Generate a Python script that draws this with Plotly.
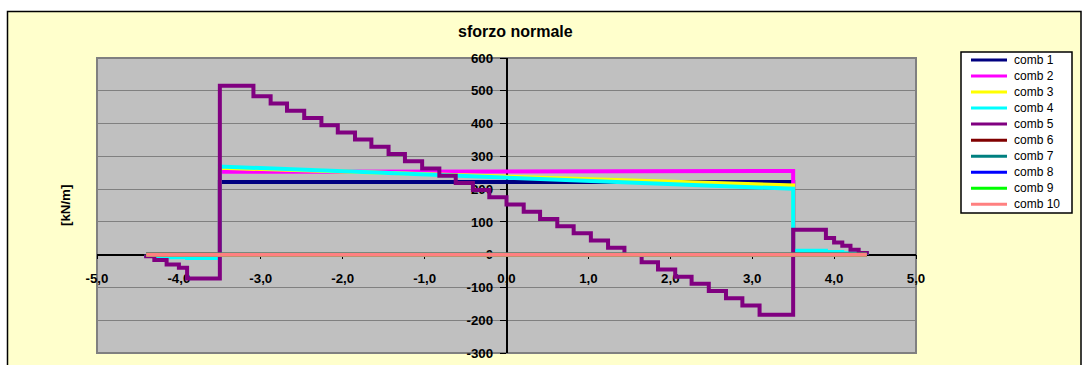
import plotly.graph_objects as go

# ---------------- data ----------------
series_names = ["comb 1", "comb 2", "comb 3", "comb 4", "comb 5",
                "comb 6", "comb 7", "comb 8", "comb 9", "comb 10"]
series_colors = ["#000080", "#FF00FF", "#FFFF00", "#00FFFF", "#800080",
                 "#800000", "#008080", "#0000FF", "#00FF00", "#FF8080"]

# beam stations (m)
comb1_x = [-4.4, -3.5, -3.5, 3.5, 3.5, 4.4]
comb1_y = [0, 0, 222, 222, 0, 0]

comb2_x = [-4.4, -3.5, -3.5, 3.5, 3.5, 4.4]
comb2_y = [0, 0, 253, 255, 0, 0]

comb3_x = [-4.4, -3.5, -3.5, 3.5, 3.5, 4.4]
comb3_y = [0, 0, 265, 211, 0, 0]

comb4_x = [-4.4, -4.4, -4.1, -4.1, -3.9, -3.9, -3.5, -3.5, 3.5, 3.5, 3.9, 3.9, 4.1, 4.1, 4.4, 4.4]
comb4_y = [0, -4, -4, -8, -8, -10, -10, 269, 201, 12, 12, 8, 8, 4, 4, 0]

# step diagram (value holds from station to next station)
comb5_x = [-4.4, -4.4, -4.3, -4.15, -4.0, -3.9,
           -3.5, -3.29, -3.09, -2.88, -2.68, -2.47, -2.26, -2.06, -1.85, -1.65,
           -1.44, -1.24, -1.03, -0.82, -0.62, -0.41, -0.21, 0.0, 0.21, 0.41,
           0.62, 0.82, 1.03, 1.24, 1.44, 1.65, 1.85, 2.06, 2.26, 2.47,
           2.68, 2.88, 3.09, 3.29,
           3.5, 3.9, 4.0, 4.1, 4.2, 4.3, 4.4]
comb5_y = [0, -5, -16, -30, -40, -73,
           515, 515, 483, 461, 439, 417, 395, 373, 351, 329,
           307, 285, 263, 241, 219, 197, 175, 153, 131, 109,
           87, 65, 43, 21, -1, -23, -45, -67, -89, -111,
           -133, -155, -183, -183,
           76, 51, 37, 27, 15, 5, 0]

comb6_x = [-4.4, 4.4]
comb6_y = [0, 0]
comb7_x = [-4.4, 4.4]
comb7_y = [0, 0]
comb8_x = [-4.4, 4.4]
comb8_y = [0, 0]
comb9_x = [-4.4, 4.4]
comb9_y = [0, 0]
comb10_x = [-4.4, 4.4]
comb10_y = [0, 0]

x_ticks = [-5, -4, -3, -2, -1, 0, 1, 2, 3, 4, 5]
x_tick_labels = ["-5,0", "-4,0", "-3,0", "-2,0", "-1,0", "0,0",
                 "1,0", "2,0", "3,0", "4,0", "5,0"]
y_ticks = [-300, -200, -100, 0, 100, 200, 300, 400, 500, 600]
y_tick_labels = ["-300", "-200", "-100", "0", "100", "200", "300", "400", "500", "600"]

title_text = "sforzo normale"
y_title = "[kN/m]"

# ---------------- layout helpers ----------------
W, H = 1082, 365
L, R, T, B = 97, 916, 58, 353


def px(x):
    return (x - L) / (R - L)


def py(y):
    return (B - y) / (B - T)


FONT = "Liberation Sans, Arial, sans-serif"

xs = [comb1_x, comb2_x, comb3_x, comb4_x, comb5_x,
      comb6_x, comb7_x, comb8_x, comb9_x, comb10_x]
ys = [comb1_y, comb2_y, comb3_y, comb4_y, comb5_y,
      comb6_y, comb7_y, comb8_y, comb9_y, comb10_y]

fig = go.Figure()
for name, col, x, y in zip(series_names, series_colors, xs, ys):
    fig.add_trace(go.Scatter(
        x=x, y=y, name=name, mode="lines",
        line=dict(color=col, width=4, shape="hv" if name == "comb 5" else "linear"),
        showlegend=False, hoverinfo="x+y+name",
    ))

shapes = []
annotations = []

# white surroundings outside the chart frame
shapes.append(dict(type="rect", xref="paper", yref="paper",
                   x0=px(-10), x1=px(7.5), y0=py(400), y1=py(-10),
                   fillcolor="white", line=dict(width=0), layer="above"))
shapes.append(dict(type="rect", xref="paper", yref="paper",
                   x0=px(-10), x1=px(1100), y0=py(11.5), y1=py(-10),
                   fillcolor="white", line=dict(width=0), layer="above"))
shapes.append(dict(type="rect", xref="paper", yref="paper",
                   x0=px(1081), x1=px(1100), y0=py(400), y1=py(-10),
                   fillcolor="white", line=dict(width=0), layer="above"))
# chart frame
shapes.append(dict(type="rect", xref="paper", yref="paper",
                   x0=px(7.5), x1=px(1081), y0=py(400), y1=py(11.5),
                   fillcolor="rgba(0,0,0,0)", line=dict(color="black", width=1.5),
                   layer="above"))
# plot area border
shapes.append(dict(type="rect", xref="paper", yref="paper",
                   x0=0, x1=1, y0=0, y1=1,
                   fillcolor="rgba(0,0,0,0)", line=dict(color="#808080", width=2),
                   layer="below"))

# legend box
shapes.append(dict(type="rect", xref="paper", yref="paper",
                   x0=px(961), x1=px(1072), y0=py(213), y1=py(52),
                   fillcolor="white", line=dict(color="black", width=1.5),
                   layer="above"))
for i, (name, col) in enumerate(zip(series_names, series_colors)):
    yy = 60 + 16.03 * i
    shapes.append(dict(type="line", xref="paper", yref="paper",
                       x0=px(971), x1=px(1007), y0=py(yy), y1=py(yy),
                       line=dict(color=col, width=3), layer="above"))
    annotations.append(dict(text=name, xref="paper", yref="paper",
                            x=px(1012), y=py(yy), xanchor="left", yanchor="middle",
                            showarrow=False,
                            font=dict(family=FONT, size=12, color="black")))

# title
annotations.append(dict(text=title_text, xref="paper", yref="paper",
                        x=px(515), y=py(31), xanchor="center", yanchor="middle",
                        showarrow=False,
                        font=dict(family=FONT, size=16, color="black", weight="bold")))
# y axis title
annotations.append(dict(text=y_title, xref="paper", yref="paper",
                        x=px(65), y=py(206), xanchor="center", yanchor="middle",
                        textangle=-90, showarrow=False,
                        font=dict(family=FONT, size=13.3, color="black", weight="bold")))

fig.update_layout(
    width=W, height=H, autosize=False,
    margin=dict(l=L, r=W - R, t=T, b=H - B, pad=0, autoexpand=False),
    paper_bgcolor="#FFFFCC",
    plot_bgcolor="#C0C0C0",
    separators=",.",
    showlegend=False,
    shapes=shapes,
    annotations=annotations,
    xaxis=dict(
        range=[-5, 5], tickvals=x_ticks, ticktext=x_tick_labels,
        anchor="free", position=1 / 3, automargin=False,
        showline=True, linecolor="black", linewidth=1.5,
        ticks="outside", ticklen=4, tickcolor="black", tickwidth=1,
        ticklabelstandoff=8,
        showgrid=False, zeroline=False, layer="below traces",
        tickfont=dict(family=FONT, size=13.3, color="black", weight="bold"),
    ),
    yaxis=dict(
        range=[-300, 600], tickvals=y_ticks, ticktext=y_tick_labels,
        anchor="free", position=0.5, automargin=False,
        showline=True, linecolor="black", linewidth=1.5,
        ticks="outside", ticklen=6, tickcolor="black", tickwidth=1,
        ticklabelstandoff=4,
        showgrid=True, gridcolor="#808080", gridwidth=1,
        zeroline=False, layer="below traces",
        tickfont=dict(family=FONT, size=13.3, color="black", weight="bold"),
    ),
)

fig.write_html("out.html")
